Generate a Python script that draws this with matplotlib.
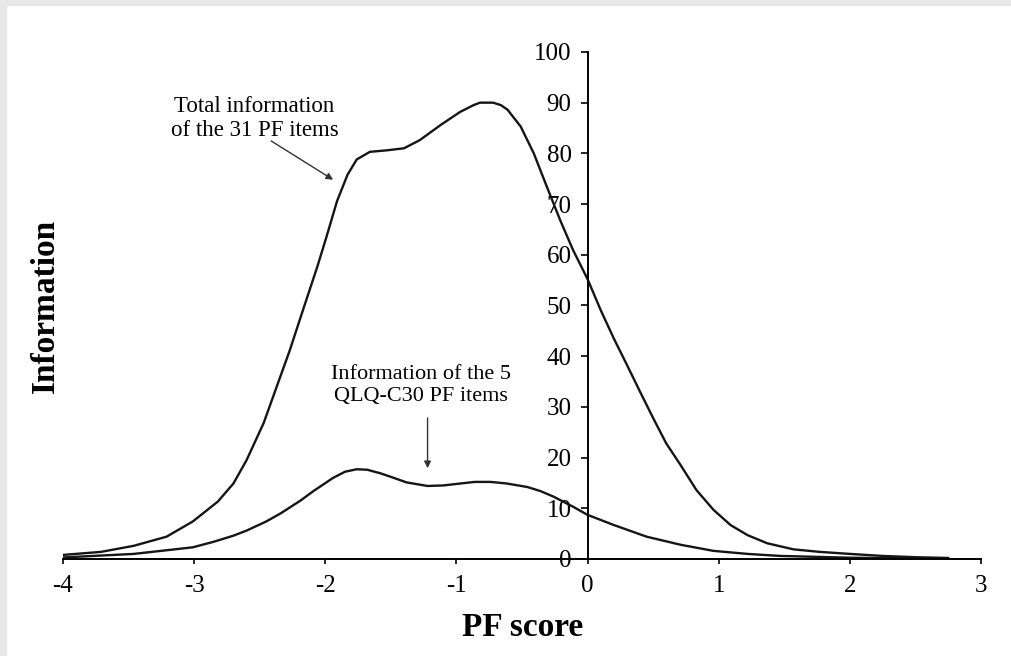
import matplotlib
matplotlib.use("Agg")
import matplotlib.pyplot as plt
from matplotlib.patches import Rectangle

plt.rcParams['font.family'] = ['Liberation Serif', 'DejaVu Serif']
plt.rcParams['axes.unicode_minus'] = False

# values (PF score -> information)
totalX = [-4.0, -3.71, -3.46, -3.21, -3.01, -2.82, -2.70, -2.60, -2.47, -2.37,
          -2.27, -2.17, -2.06, -1.99, -1.91, -1.83, -1.76, -1.66, -1.53, -1.40,
          -1.28, -1.12, -0.97, -0.87, -0.82, -0.72, -0.66, -0.61, -0.51, -0.41,
          -0.31, -0.21, -0.11, 0.0, 0.1, 0.2, 0.3, 0.4, 0.5, 0.6,
          0.71, 0.83, 0.96, 1.09, 1.22, 1.37, 1.57, 1.77, 2.0, 2.25,
          2.5, 2.75]
totalY = [0.8, 1.4, 2.6, 4.4, 7.4, 11.3, 14.9, 19.5, 26.8, 34.0,
          41.2, 49.1, 57.7, 63.6, 70.6, 75.8, 78.8, 80.3, 80.6, 81.0,
          82.6, 85.6, 88.2, 89.5, 90.0, 90.0, 89.5, 88.6, 85.3, 80.0,
          73.4, 66.9, 60.9, 55.2, 49.1, 43.5, 38.3, 33.0, 27.8, 22.8,
          18.5, 13.6, 9.7, 6.7, 4.7, 3.1, 1.9, 1.4, 1.0, 0.6,
          0.35, 0.2]

qlqX = [-4.0, -3.46, -3.01, -2.85, -2.70, -2.60, -2.45, -2.34, -2.19, -2.09,
        -1.94, -1.85, -1.76, -1.68, -1.58, -1.50, -1.38, -1.22, -1.10, -1.0,
        -0.86, -0.74, -0.62, -0.46, -0.36, -0.26, -0.11, 0.0, 0.2, 0.45,
        0.71, 0.96, 1.22, 1.47, 2.0, 2.75]
qlqY = [0.3, 1.0, 2.3, 3.4, 4.6, 5.6, 7.4, 9.0, 11.5, 13.4,
        16.0, 17.2, 17.7, 17.6, 16.9, 16.2, 15.1, 14.4, 14.5, 14.8,
        15.2, 15.2, 14.9, 14.2, 13.4, 12.3, 10.3, 8.7, 6.7, 4.4,
        2.8, 1.6, 1.0, 0.6, 0.25, 0.05]

xTicks = [-4, -3, -2, -1, 0, 1, 2, 3]
yTicks = [0, 10, 20, 30, 40, 50, 60, 70, 80, 90, 100]

fig = plt.figure(figsize=(10.11, 6.56), dpi=100)
fig.patches.append(Rectangle((0, 0), 6 / 1011, 1, transform=fig.transFigure,
                             color='#e7e7e7', zorder=0))
fig.patches.append(Rectangle((0, 1 - 5 / 656), 1, 5 / 656, transform=fig.transFigure,
                             color='#e7e7e7', zorder=0))

ax = fig.add_axes([0.0623, 0.1479, 0.9080, 0.7729])
ax.plot(totalX, totalY, color='#151515', lw=1.7, solid_joinstyle='round')
ax.plot(qlqX, qlqY, color='#151515', lw=1.7, solid_joinstyle='round')

ax.set_xlim(-4, 3)
ax.set_ylim(0, 100)
ax.spines['left'].set_position(('data', 0))
ax.spines['top'].set_visible(False)
ax.spines['right'].set_visible(False)
ax.spines['left'].set_linewidth(1.4)
ax.spines['bottom'].set_linewidth(1.4)

ax.set_xticks(xTicks)
ax.set_xticklabels([str(t) for t in xTicks])
ax.set_yticks(yTicks)
ax.tick_params(axis='x', direction='out', length=3.6, width=1.2, pad=8, labelsize=18)
ax.tick_params(axis='y', direction='out', length=5, width=1.2, pad=6.5, labelsize=18)

ax.set_ylabel('Information', fontsize=24, fontweight='bold', va='center')
ax.yaxis.set_label_coords(-0.0196, 0.5)
ax.set_xlabel('PF score', fontsize=24, fontweight='bold', va='center')
ax.xaxis.set_label_coords(0.501, -0.136)

ax.annotate('Total information\nof the 31 PF items', xy=(-1.94, 74.8), xytext=(-2.54, 86.9),
            ha='center', va='center', fontsize=16.5, linespacing=1.2,
            arrowprops=dict(arrowstyle='-|>', color='#333333', lw=1,
                            mutation_scale=10, shrinkA=0, shrinkB=0,
                            patchA=None, relpos=(0.6, 0.0)))
ax.text(-1.27, 34.2, 'Information of the 5\nQLQ-C30 PF items', ha='center', va='center',
        fontsize=16, linespacing=1.2)
ax.annotate('', xy=(-1.22, 17.9), xytext=(-1.22, 27.8),
            arrowprops=dict(arrowstyle='-|>', color='#333333', lw=1,
                            mutation_scale=10, shrinkA=0, shrinkB=0))

fig.savefig('out.png', dpi=100, facecolor='white')
